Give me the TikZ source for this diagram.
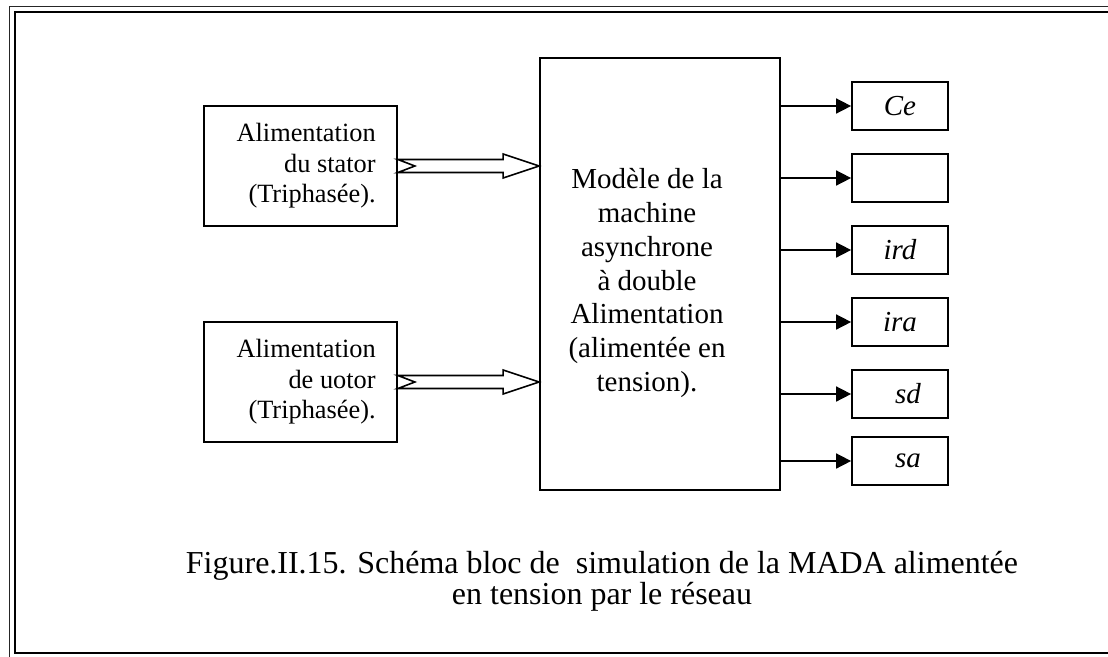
\documentclass[tikz,border=0pt]{standalone}
\usepackage{fontspec}
\setmainfont{Liberation Serif}
\usetikzlibrary{arrows.meta,calc}

\tikzset{
  bloc/.style={draw,line width=1pt,inner sep=0pt},
  sortie/.style={line width=0.9pt,-{Triangle[length=3mm,width=3mm]}},
  creuse/.style={draw,line width=0.9pt,fill=white,line join=miter}
}
\newcommand{\flechecreuse}[2]{%
\draw[creuse] ($(#1)+(0,-6.5)$) -- ($(#2)+(-36,-6.5)$) -- ($(#2)+(-36,-12)$)
  -- (#2) -- ($(#2)+(-36,12)$) -- ($(#2)+(-36,6.5)$) -- ($(#1)+(0,6.5)$)
  -- ($(#1)+(17,0)$) -- cycle;}

\begin{document}
\begin{tikzpicture}[x=0.02cm,y=-0.02cm]
\useasboundingbox (0,0) rectangle (1108,656);
% cadre
\draw[line width=1pt,black!85] (9.5,6.5) rectangle (1140,690);
\draw[line width=1.1pt] (15,12) rectangle (1130,653);

% alimentations
\node[bloc,minimum width=3.86cm,minimum height=2.4cm] (alim1) at (300.5,166) {};
\node[bloc,minimum width=3.86cm,minimum height=2.4cm] (alim2) at (300.5,382) {};
\node[anchor=east,align=right,inner sep=0pt,font=\fontsize{15}{17.3}\selectfont] (t1) at (376,166)
  {Alimentation\\du stator\\(Triphasée).};
\node[anchor=east,align=right,inner sep=0pt,font=\fontsize{15}{17.3}\selectfont] (t2) at (376,382)
  {Alimentation\\de uotor\\(Triphasée).};

% modele
\node[bloc,minimum width=4.8cm,minimum height=8.64cm] (modele) at (660,274) {};
\node[align=center,font=\fontsize{16.5}{19.2}\selectfont] (tm) at (647,283)
  {Modèle de la\\machine\\asynchrone\\à double\\Alimentation\\(alimentée en\\tension).};

\coordinate (e1) at (modele.west |- alim1.east);
\coordinate (e2) at (modele.west |- alim2.east);
\flechecreuse{alim1.east}{e1}
\flechecreuse{alim2.east}{e2}

% sorties
\tikzset{sbox/.style={bloc,minimum width=1.92cm,minimum height=0.96cm,
  font=\fontsize{16.5}{19}\selectfont\itshape}}
\node[sbox] (ce)  at (900,106) {Ce};
\node[sbox] (s2)  at (900,178) {};
\node[sbox] (ird) at (900,250) {ird};
\node[sbox] (ira) at (900,322) {ira};
\node[sbox] (sd)  at (900,394) {\hspace{3.2mm}sd};
\node[sbox] (sa)  at (900,461) {\hspace{3.2mm}sa};
\foreach \s in {ce,s2,ird,ira,sd,sa}
  \draw[sortie] (modele.east |- \s.west) -- (\s.west);

% legende
\node[align=center,inner sep=0pt,font=\fontsize{18.2}{17.9}\selectfont] (leg) at (602,581)
  {Figure.II.15. Schéma bloc de\ \ simulation de la MADA alimentée\\en tension par le réseau};
\end{tikzpicture}
\end{document}
